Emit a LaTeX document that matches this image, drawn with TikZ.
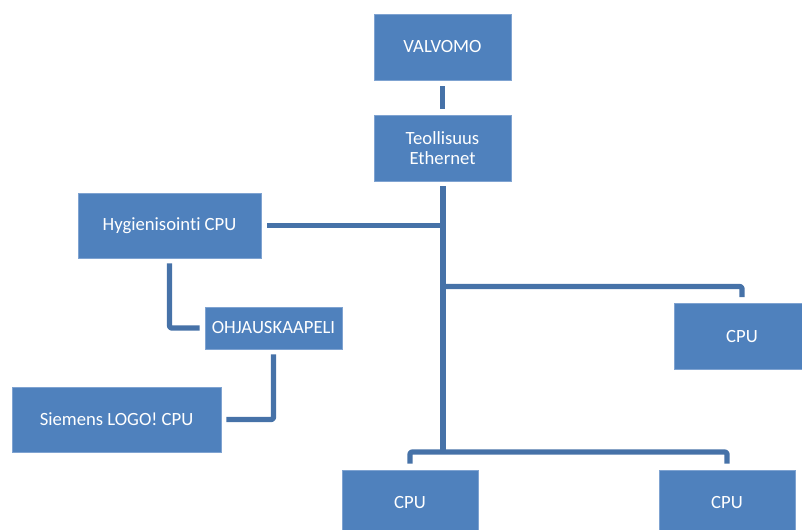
\documentclass[tikz,border=0pt]{standalone}
\usepackage{fontspec}
\setmainfont[Ligatures=NoCommon]{Carlito}
\begin{document}
\begin{tikzpicture}[x=0.75pt, y=-0.75pt, font=\fontsize{14}{15}\selectfont, line cap=butt]
  \definecolor{unitFill}{HTML}{4F81BD}
  \definecolor{unitEdge}{HTML}{7FA3D1}
  \definecolor{cableBlue}{HTML}{4672A8}
  \tikzset{
    unit/.style={rectangle, fill=unitFill, draw=unitEdge, line width=0.4pt,
      text=white, align=center, inner sep=0pt},
    link/.style={draw=cableBlue, line width=3.9pt, line join=round, rounded corners=1.5pt},
  }
  \useasboundingbox (0,0) rectangle (802,529);
  \clip (0,0) rectangle (802,529);

  \node[unit, minimum width=137*0.75pt, minimum height=66*0.75pt] (valvomo) at (442.5,47) {VALVOMO};
  \node[unit, minimum width=137*0.75pt, minimum height=66*0.75pt] (ethernet) at (442.5,148) {Teollisuus\\Ethernet};
  \node[unit, minimum width=183*0.75pt, minimum height=65*0.75pt] (hyg) at (169.5,225.5) {Hygienisointi CPU};
  \node[unit, minimum width=137*0.75pt, minimum height=42*0.75pt] (ohjaus) at (273.5,328) {OHJAUSKAAPELI};
  \node[unit, minimum width=209*0.75pt, minimum height=65*0.75pt] (logo) at (116.5,419.5) {Siemens LOGO! CPU};
  \foreach \name/\cx/\cy in {cpuR/742/336.5, cpuBL/410/503, cpuBR/727/503}{
    \node[unit, minimum width=136*0.75pt, minimum height=66*0.75pt] (\name) at (\cx,\cy) {CPU};
  }

  \coordinate (busR) at (443,286.5);
  \coordinate (busB) at (443,452);

  \draw[link, shorten <=6*0.75pt, shorten >=6*0.75pt] (valvomo) -- (ethernet);
  \draw[link, shorten <=5*0.75pt] (ethernet.south -| busB) -- (busB);
  \draw[link, shorten <=6*0.75pt] (hyg.east) -- (hyg.east -| busB);
  \draw[link, shorten >=6*0.75pt] (busR) -| (cpuR.north);
  \draw[link, shorten <=6*0.75pt, shorten >=6*0.75pt] (cpuBL.north) |- (busB) -| (cpuBR.north);
  \draw[link, shorten <=5*0.75pt, shorten >=5*0.75pt] (hyg.south) |- (ohjaus.west);
  \draw[link, shorten <=5*0.75pt, shorten >=5*0.75pt] (ohjaus.south) |- (logo.east);
\end{tikzpicture}
\end{document}
